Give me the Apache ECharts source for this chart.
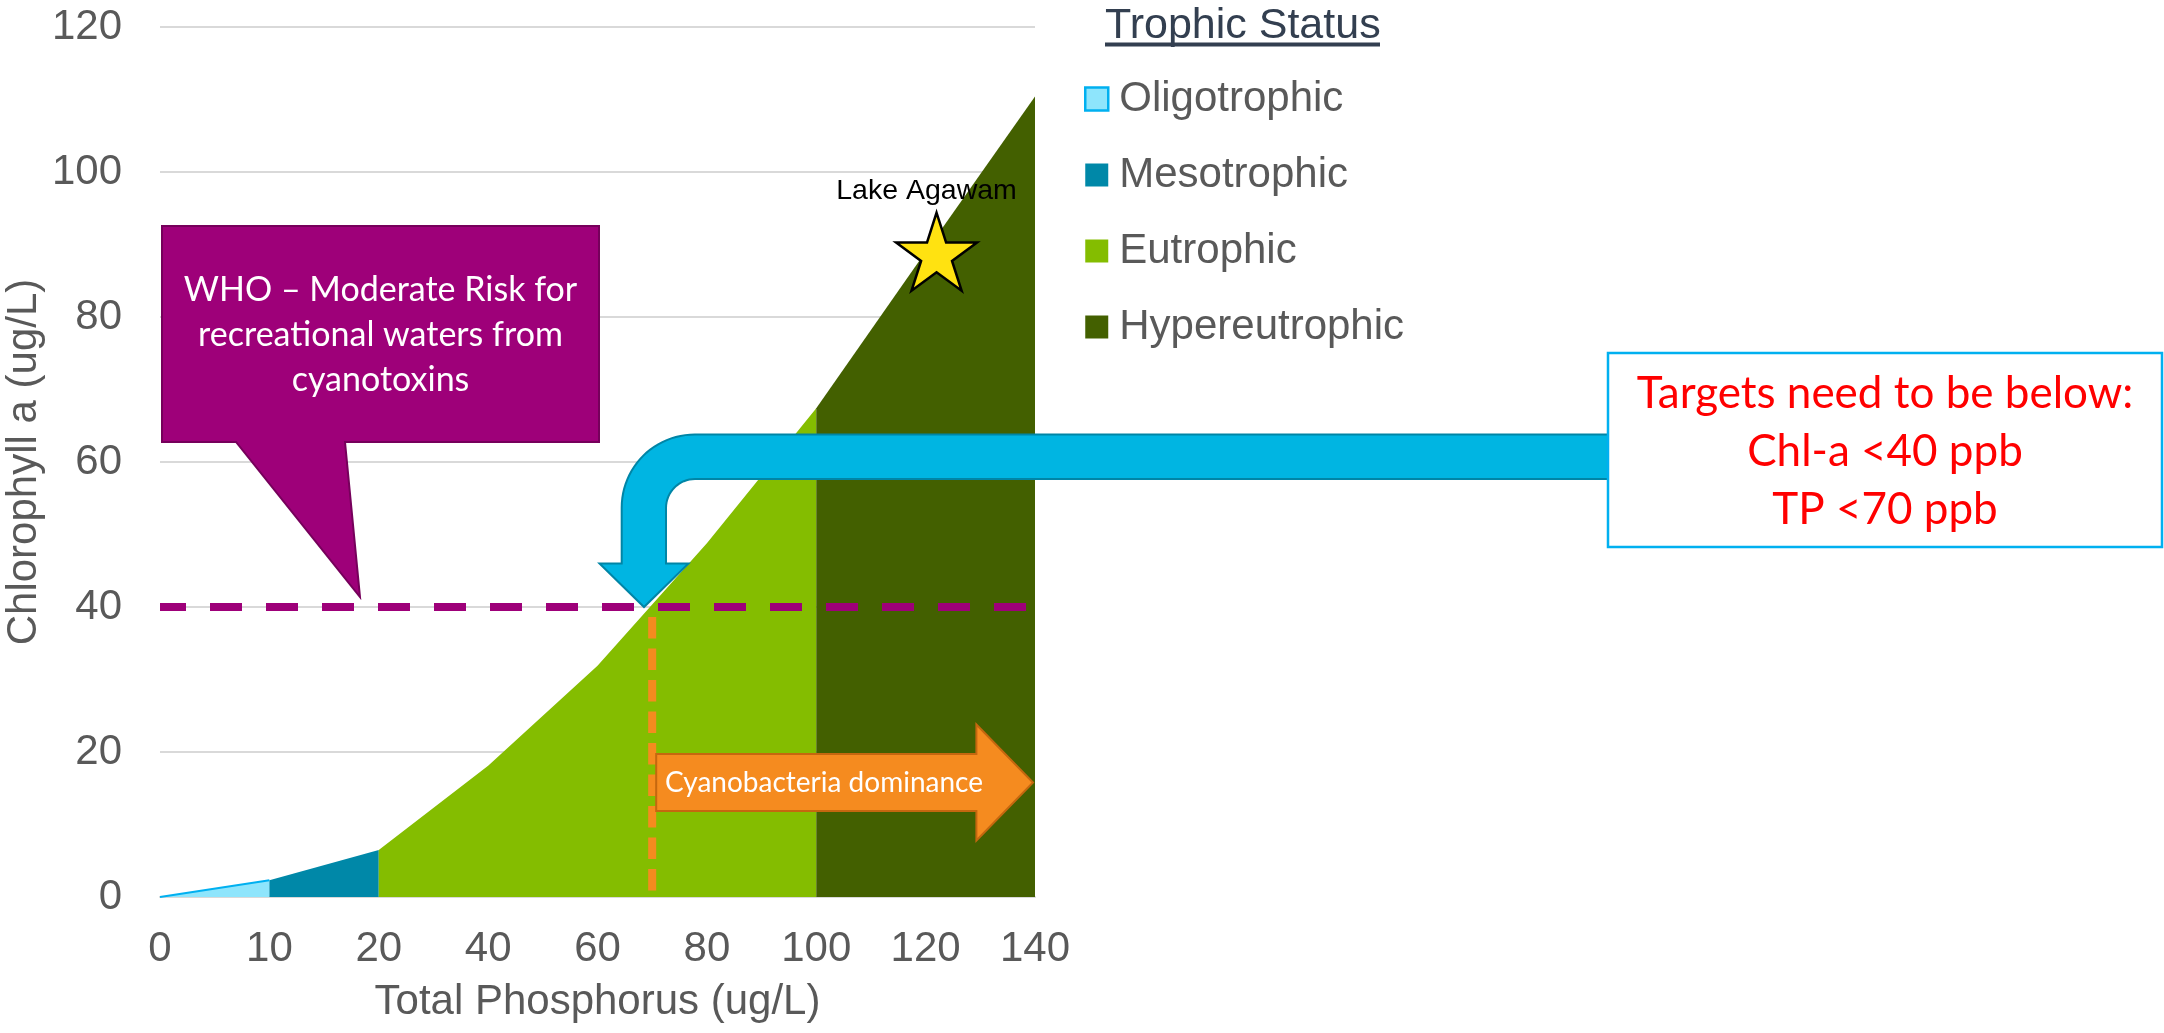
<!DOCTYPE html>
<html>
<head>
<meta charset="utf-8">
<script src="https://cdn.jsdelivr.net/npm/echarts@6/dist/echarts.min.js"></script>
<style>
  html, body { margin: 0; padding: 0; background: #ffffff; }
  #chart { width: 2164px; height: 1033px; }
</style>
</head>
<body>
<div id="chart"></div>
<script>
// Total phosphorus categories (ug/L) shown on the x axis
const tpCategories = ['0', '10', '20', '40', '60', '80', '100', '120', '140'];
const tpTickValues = [0, 10, 20, 40, 60, 80, 100, 120, 140];

// Chlorophyll a (ug/L) for each trophic band
const oligotrophic   = [0, 2.3, null, null, null, null, null, null, null];
const mesotrophic    = [null, 2.3, 6.5, null, null, null, null, null, null];
const eutrophic      = [null, null, 6.5, 18.1, 31.9, 48.8, 67.4, null, null];
const hypereutrophic = [null, null, null, null, null, null, 67.4, 89, 110.4];

const bandNames  = ['Oligotrophic', 'Mesotrophic', 'Eutrophic', 'Hypereutrophic'];
const bandColors = ['#8EE5FC', '#0088A8', '#84BD00', '#436000'];

// Reference thresholds and the lake position
const whoChlLimit = 40;      // WHO moderate risk, chlorophyll a
const targetTP = 70;         // phosphorus target, onset of cyanobacteria dominance
const cyanoTPEnd = 140;
const lakeName = 'Lake Agawam';
const lakeTP = 122;
const lakeChl = 89;

const yTicks = { min: 0, max: 120, interval: 20 };

// Map a phosphorus value onto the (uneven) category positions
function tpToIndex(tp) {
  for (let i = 1; i < tpTickValues.length; i++) {
    if (tp <= tpTickValues[i]) {
      const a = tpTickValues[i - 1], b = tpTickValues[i];
      return (i - 1) + (tp - a) / (b - a);
    }
  }
  return tpTickValues.length - 1;
}

const ARIAL = '"Liberation Sans", Arial, Helvetica, sans-serif';
const CALIBRI = 'Lato, "Open Sans", sans-serif';
const STAR = 'path://M50 0 L61.23 34.55 L97.55 34.55 L68.16 55.9 L79.39 90.45 L50 69.1 L20.61 90.45 L31.84 55.9 L2.45 34.55 L38.77 34.55 Z';

const chart = echarts.init(document.getElementById('chart'), null, { renderer: 'canvas' });

function bandSeries(name, data, color, line) {
  return {
    name: name,
    type: 'line',
    data: data,
    xAxisIndex: 0,
    yAxisIndex: 0,
    showSymbol: false,
    symbol: 'none',
    connectNulls: false,
    itemStyle: { color: color },
    lineStyle: line ? { color: line, width: 2 } : { width: 0, color: color },
    areaStyle: { color: color, opacity: 1 },
    emphasis: { disabled: true },
    z: 2
  };
}

const option = {
  animation: false,
  backgroundColor: '#ffffff',
  grid: { left: 160, right: 1129, top: 27, bottom: 136, containLabel: false },
  xAxis: [
    {
      type: 'category',
      data: tpCategories,
      boundaryGap: false,
      name: 'Total Phosphorus (ug/L)',
      nameLocation: 'middle',
      nameGap: 84,
      nameTextStyle: { color: '#595959', fontSize: 42, fontFamily: ARIAL },
      axisLine: { show: true, lineStyle: { color: '#D9D9D9', width: 2 } },
      axisTick: { show: false },
      axisLabel: { interval: 0, margin: 31, color: '#595959', fontSize: 42, fontFamily: ARIAL },
      splitLine: { show: false }
    },
    {
      type: 'value',
      min: 0,
      max: tpCategories.length - 1,
      show: false,
      splitLine: { show: false }
    }
  ],
  yAxis: {
    type: 'value',
    min: yTicks.min,
    max: yTicks.max,
    interval: yTicks.interval,
    name: 'Chlorophyll a (ug/L)',
    nameLocation: 'middle',
    nameGap: 115,
    nameTextStyle: { color: '#595959', fontSize: 42, fontFamily: ARIAL },
    axisLine: { show: false },
    axisTick: { show: false },
    axisLabel: { margin: 38, color: '#595959', fontSize: 42, fontFamily: ARIAL },
    splitLine: { show: true, lineStyle: { color: '#D9D9D9', width: 2 } }
  },
  legend: {
    orient: 'vertical',
    left: 1084,
    top: 78,
    padding: 0,
    icon: 'rect',
    itemWidth: 23,
    itemHeight: 23,
    itemGap: 34,
    selectedMode: false,
    textStyle: { color: '#595959', fontSize: 42, fontFamily: ARIAL, lineHeight: 42, padding: [0, 0, 0, 6] },
    data: [
      { name: bandNames[0], itemStyle: { color: bandColors[0], borderColor: '#00B0F0', borderWidth: 2.5 } },
      { name: bandNames[1], itemStyle: { color: bandColors[1], borderWidth: 0 } },
      { name: bandNames[2], itemStyle: { color: bandColors[2], borderWidth: 0 } },
      { name: bandNames[3], itemStyle: { color: bandColors[3], borderWidth: 0 } }
    ]
  },
  series: [
    bandSeries(bandNames[0], oligotrophic, bandColors[0], '#00B0F0'),
    bandSeries(bandNames[1], mesotrophic, bandColors[1]),
    bandSeries(bandNames[2], eutrophic, bandColors[2]),
    bandSeries(bandNames[3], hypereutrophic, bandColors[3]),
    {
      name: 'WHO limit',
      type: 'line',
      xAxisIndex: 1,
      yAxisIndex: 0,
      data: [[0, whoChlLimit], [tpCategories.length - 1, whoChlLimit]],
      symbol: 'none',
      lineStyle: { color: '#9E0079', width: 8, type: [32, 24], dashOffset: 6, cap: 'butt' },
      emphasis: { disabled: true },
      z: 4
    },
    {
      name: 'TP target',
      type: 'line',
      xAxisIndex: 1,
      yAxisIndex: 0,
      data: [[tpToIndex(targetTP), whoChlLimit], [tpToIndex(targetTP), 0]],
      symbol: 'none',
      lineStyle: { color: '#F58B1F', width: 8, type: [21.5, 10], dashOffset: -10, cap: 'butt' },
      emphasis: { disabled: true },
      z: 4
    },
    {
      name: lakeName,
      type: 'scatter',
      xAxisIndex: 1,
      yAxisIndex: 0,
      data: [{ name: lakeName, value: [tpToIndex(lakeTP), lakeChl] }],
      symbol: STAR,
      symbolSize: [81, 78],
      itemStyle: { color: '#FFE211', borderColor: '#000000', borderWidth: 2.5, opacity: 1 },
      label: {
        show: true,
        formatter: '{b}',
        position: 'top',
        distance: 6,
        offset: [-10, 0],
        color: '#000000',
        fontSize: 28.5,
        fontFamily: ARIAL
      },
      emphasis: { disabled: true },
      z: 8
    }
  ]
};

chart.setOption(option);

// Callouts, arrows and the legend heading
function px(tp, chl) {
  return chart.convertToPixel({ xAxisIndex: 1, yAxisIndex: 0 }, [tpToIndex(tp), chl]);
}

// quarter-circle points from angle a0 to a1 (radians) around (cx, cy)
function arcPoints(cx, cy, r, a0, a1, n) {
  const pts = [];
  for (let i = 0; i <= n; i++) {
    const a = a0 + (a1 - a0) * i / n;
    pts.push([cx + r * Math.cos(a), cy + r * Math.sin(a)]);
  }
  return pts;
}

function cyanArrowPoints(tipX, tipY, rightX) {
  const xL = tipX - 22.3, xI = tipX + 22;
  const top = tipY - 172.5, bot = tipY - 128;
  const headY = tipY - 43.5;
  const ro = 73, ri = 29;
  let pts = [[rightX, top]];
  // outer bend: from top edge round to the left edge
  pts = pts.concat(arcPoints(xL + ro, top + ro, ro, -Math.PI / 2, -Math.PI, 24));
  pts.push([xL, headY], [tipX - 44.5, headY], [tipX, tipY], [tipX + 44.5, headY], [xI, headY]);
  // inner bend: from the inner vertical edge round to the bottom edge
  pts = pts.concat(arcPoints(xI + ri, bot + ri, ri, -Math.PI, -Math.PI / 2, 16));
  pts.push([rightX, bot]);
  return pts;
}

function rightArrowPoints(x0, x1, cy) {
  const bodyHalf = 28.4, headHalf = 58, headLen = 56.6;
  const hx = x1 - headLen;
  return [
    [x0, cy - bodyHalf], [hx, cy - bodyHalf], [hx, cy - headHalf], [x1, cy],
    [hx, cy + headHalf], [hx, cy + bodyHalf], [x0, cy + bodyHalf]
  ];
}

const limitPt = px(targetTP, whoChlLimit);
const cyanoStart = px(targetTP, 0);
const cyanoEnd = px(cyanoTPEnd, 0);
const cyanoY = 782.5;

const targetBox = { x: 1608, y: 353, w: 554, h: 194 };
const whoBox = { x: 162, y: 226, w: 437, h: 216 };
const whoBottom = whoBox.y + whoBox.h;

chart.setOption({
  graphic: [
    // legend heading with underline
    {
      type: 'text', x: 1105, y: 26, z: 10,
      style: { text: 'Trophic Status', fill: '#333F50', fontSize: 43, fontFamily: ARIAL, verticalAlign: 'middle' }
    },
    {
      type: 'rect', z: 10,
      shape: { x: 1105, y: 42.5, width: 275, height: 4 },
      style: { fill: '#333F50' }
    },
    // WHO callout
    {
      type: 'polygon', z: 10,
      shape: {
        points: [
          [whoBox.x, whoBox.y], [whoBox.x + whoBox.w, whoBox.y], [whoBox.x + whoBox.w, whoBottom],
          [345, whoBottom], [360, 597], [236, whoBottom], [whoBox.x, whoBottom]
        ]
      },
      style: { fill: '#9E0079', stroke: '#76005B', lineWidth: 2 }
    },
    {
      type: 'text', z: 11, x: whoBox.x + whoBox.w / 2, y: 335,
      style: {
        text: 'WHO – Moderate Risk for\nrecreational waters from\ncyanotoxins',
        fill: '#ffffff', fontSize: 34, fontFamily: CALIBRI, lineHeight: 45,
        align: 'center', verticalAlign: 'middle'
      }
    },
    // cyan pointer from the targets box
    {
      type: 'polygon', z: 12,
      shape: { points: cyanArrowPoints(644, limitPt[1], targetBox.x) },
      style: { fill: '#00B5E2', stroke: '#0085A6', lineWidth: 2 }
    },
    {
      type: 'rect', z: 13,
      shape: { x: targetBox.x, y: targetBox.y, width: targetBox.w, height: targetBox.h },
      style: { fill: '#ffffff', stroke: '#00B0F0', lineWidth: 2.5 }
    },
    {
      type: 'text', z: 14, x: targetBox.x + targetBox.w / 2, y: 452,
      style: {
        text: 'Targets need to be below:\nChl-a <40 ppb\nTP <70 ppb',
        fill: '#FF0000', fontSize: 44, fontFamily: CALIBRI, lineHeight: 58,
        align: 'center', verticalAlign: 'middle'
      }
    },
    // cyanobacteria dominance arrow
    {
      type: 'polygon', z: 10,
      shape: { points: rightArrowPoints(cyanoStart[0] + 4, cyanoEnd[0] - 2, cyanoY) },
      style: { fill: '#F58B1F', stroke: '#C5670F', lineWidth: 2 }
    },
    {
      type: 'text', z: 11, x: 824, y: cyanoY,
      style: {
        text: 'Cyanobacteria dominance',
        fill: '#ffffff', fontSize: 28, fontFamily: CALIBRI,
        align: 'center', verticalAlign: 'middle'
      }
    }
  ]
});
</script>
</body>
</html>
